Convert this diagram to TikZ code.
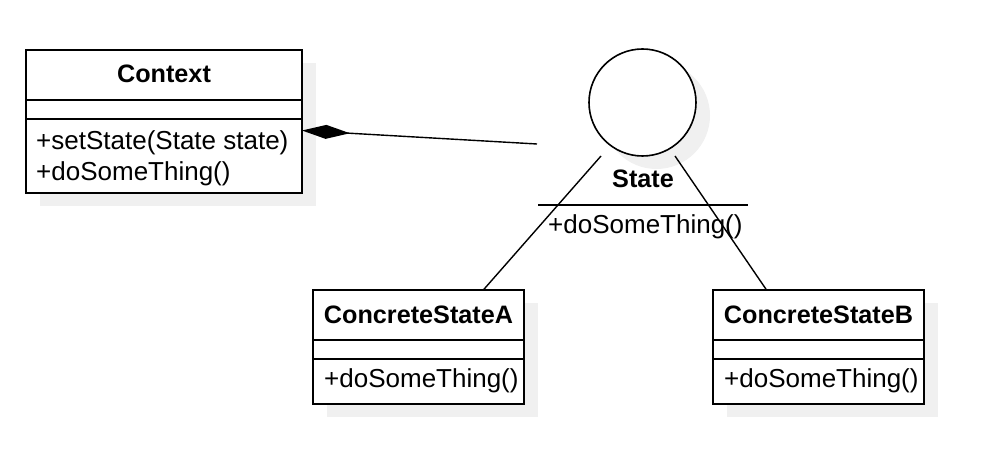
\documentclass[tikz,border=0pt]{standalone}
\usepackage{fontspec}
\setmainfont{Liberation Sans}
\usetikzlibrary{arrows.meta,shadows,calc}

\tikzset{
  umlbox/.style={draw, line width=1.6pt, fill=white, inner sep=0pt,
    drop shadow={shadow xshift=14pt, shadow yshift=-13pt, fill=black!6, opacity=1}},
  umltitle/.style={font=\fontsize{25.2}{30}\selectfont\bfseries, anchor=base, inner sep=0pt},
  umltext/.style={font=\fontsize{26}{30}\selectfont, anchor=base west, inner sep=0pt},
  umlline/.style={line width=1.6pt},
  assoc/.style={line width=1.4pt},
}

\begin{document}
\begin{tikzpicture}[x=1pt,y=-1pt]
	\useasboundingbox (0,0) rectangle (998,454);

	% classes
	\node [umlbox, minimum width=276pt, minimum height=143pt] (context) at (164, 121.5) {};
	\node [umltitle] (contexttitle) at (164, 83) {Context};
	\node [umltext] (contextop1) at (36, 150) {+setState(State state)};
	\node [umltext] (contextop2) at (36, 180.5) {+doSomeThing()};

	\node [umlbox, circle, minimum size=107pt] (state) at (642.5, 102.5) {};
	\node [umltitle] (statetitle) at (643, 188) {State};
	\node [umltext] (stateop) at (548, 234) {+doSomeThing()};

	\node [umlbox, minimum width=211pt, minimum height=114pt] (csa) at (418.5, 347) {};
	\node [umltitle] (csatitle) at (418.5, 323) {ConcreteStateA};
	\node [umltext] (csaop) at (324, 387) {+doSomeThing()};

	\node [umlbox, minimum width=211pt, minimum height=114pt] (csb) at (818.5, 347) {};
	\node [umltitle] (csbtitle) at (818.5, 323) {ConcreteStateB};
	\node [umltext] (csbop) at (724, 387) {+doSomeThing()};

	\coordinate (ctxport) at (302, 130.5);
	\coordinate (stateport) at (537, 144);

	% dividers
	\draw [umlline] (context.west |- 0,100) to (context.east |- 0,100);
	\draw [umlline] (context.west |- 0,119) to (context.east |- 0,119);
	\draw [umlline] (538, 205) to (748, 205);
	\draw [umlline] (csa.west |- 0,340) to (csa.east |- 0,340);
	\draw [umlline] (csa.west |- 0,359) to (csa.east |- 0,359);
	\draw [umlline] (csb.west |- 0,340) to (csb.east |- 0,340);
	\draw [umlline] (csb.west |- 0,359) to (csb.east |- 0,359);

	% edges
	\draw [assoc, {Diamond[length=48pt,width=14pt]}-] (ctxport) to (stateport);
	\draw [assoc] ($(state.center)+(-41.5,53.5)$) to ($(csa.north)+(65.5,0)$);
	\draw [assoc] ($(state.center)+(32.5,53.5)$) to ($(csb.north)+(-52.5,0)$);
\end{tikzpicture}
\end{document}
